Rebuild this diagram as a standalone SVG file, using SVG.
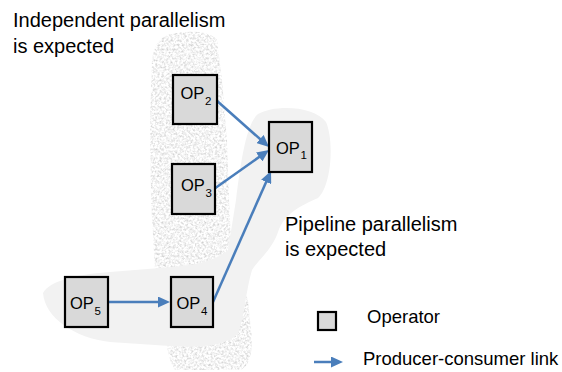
<svg xmlns="http://www.w3.org/2000/svg" width="562" height="372" viewBox="0 0 562 372">
  <style>
    .op rect { fill: #d9d9d9; stroke: #000; stroke-width: 2.2; }
    .op text, .label { font-family: "Liberation Sans", Arial, sans-serif; fill: #000; }
    .op text { font-size: 16.5px; }
    .op .sub { font-size: 11.5px; }
    .label { font-size: 20px; }
    .label.legend { font-size: 18.5px; }
    .link { stroke: #4a7ebb; stroke-width: 2.5; fill: none; marker-end: url(#head); }
  </style>
  <defs>
    <marker id="head" viewBox="0 0 12 11" refX="6" refY="5.5" markerWidth="12" markerHeight="11" markerUnits="userSpaceOnUse" orient="auto">
      <path d="M0,0 L12,5.5 L0,11 Z" fill="#4a7ebb"/>
    </marker>
    <!-- stippled grey fill for the independent-parallelism region -->
    <filter id="grain" x="0" y="0" width="100%" height="100%">
      <feTurbulence type="fractalNoise" baseFrequency="0.45" numOctaves="3" seed="7" result="n"/>
      <feColorMatrix in="n" type="matrix" values="0.75 0 0 0 0.53  0.75 0 0 0 0.53  0.75 0 0 0 0.53  0 0 0 0 1" result="g"/>
      <feComposite in="g" in2="SourceGraphic" operator="in"/>
    </filter>
  </defs>

  <!-- background regions -->
  <g id="independent-region">
    <path filter="url(#grain)" fill="#e6e6e6" d="M172,34 C190,30 210,31 217,40 L222,80 L227,140 L229,200 L232,260 L248,300 L252,340 C252,360 246,368 240,370 L175,370 C168,360 166,340 162,310 L155,270 L151,200 L150,120 L152,60 C154,45 160,36 172,34 Z"/>
  </g>
  <g id="pipeline-region">
    <path fill="#f2f2f2" d="M43,293 C50,280 80,274 110,272 L160,268 C190,266 215,262 228,250 L236,200 C240,170 245,125 258,114 C275,104 315,106 326,122 C334,140 332,185 318,198 C300,206 284,214 278,232 C272,250 258,260 252,270 C246,290 244,318 238,334 C225,346 200,348 170,346 L110,342 C75,338 45,318 43,293 Z"/>
  </g>

  <text class="label" x="13" y="27">Independent parallelism</text>
  <text class="label" x="13" y="53">is expected</text>
  <text class="label" x="285" y="231">Pipeline parallelism</text>
  <text class="label" x="285" y="256">is expected</text>

  <!-- connectors -->
  <g id="links">
    <line class="link" x1="108" y1="302" x2="164" y2="302"/>
    <line class="link" x1="216" y1="100" x2="264.5" y2="143"/>
    <line class="link" x1="214" y1="189" x2="264.1" y2="153.5"/>
    <line class="link" x1="213" y1="302" x2="268.6" y2="176.5"/>
  </g>

  <!-- operators -->
  <g id="op1" class="op">
    <rect x="269" y="122" width="43" height="50"/>
    <text x="276" y="154">OP<tspan class="sub" x="300.5" y="159">1</tspan></text>
  </g>
  <g id="op2" class="op">
    <rect x="173" y="75" width="44" height="49"/>
    <text x="180.5" y="99">OP<tspan class="sub" x="205" y="105">2</tspan></text>
  </g>
  <g id="op3" class="op">
    <rect x="172" y="164" width="43" height="50"/>
    <text x="181" y="191">OP<tspan class="sub" x="205.5" y="197">3</tspan></text>
  </g>
  <g id="op4" class="op">
    <rect x="171" y="277" width="42" height="50"/>
    <text x="176.5" y="308.5">OP<tspan class="sub" x="201" y="315">4</tspan></text>
  </g>
  <g id="op5" class="op">
    <rect x="65" y="277" width="43" height="50"/>
    <text x="70" y="309">OP<tspan class="sub" x="94.5" y="315">5</tspan></text>
  </g>

  <!-- legend -->
  <g id="legend-operator">
    <rect x="318" y="312" width="18" height="18" fill="#d9d9d9" stroke="#000" stroke-width="2.2"/>
    <text class="label legend" x="367" y="323">Operator</text>
  </g>
  <g id="legend-link">
    <line class="link" x1="314" y1="362" x2="337" y2="362"/>
    <text class="label legend" x="363" y="365">Producer-consumer link</text>
  </g>
</svg>
